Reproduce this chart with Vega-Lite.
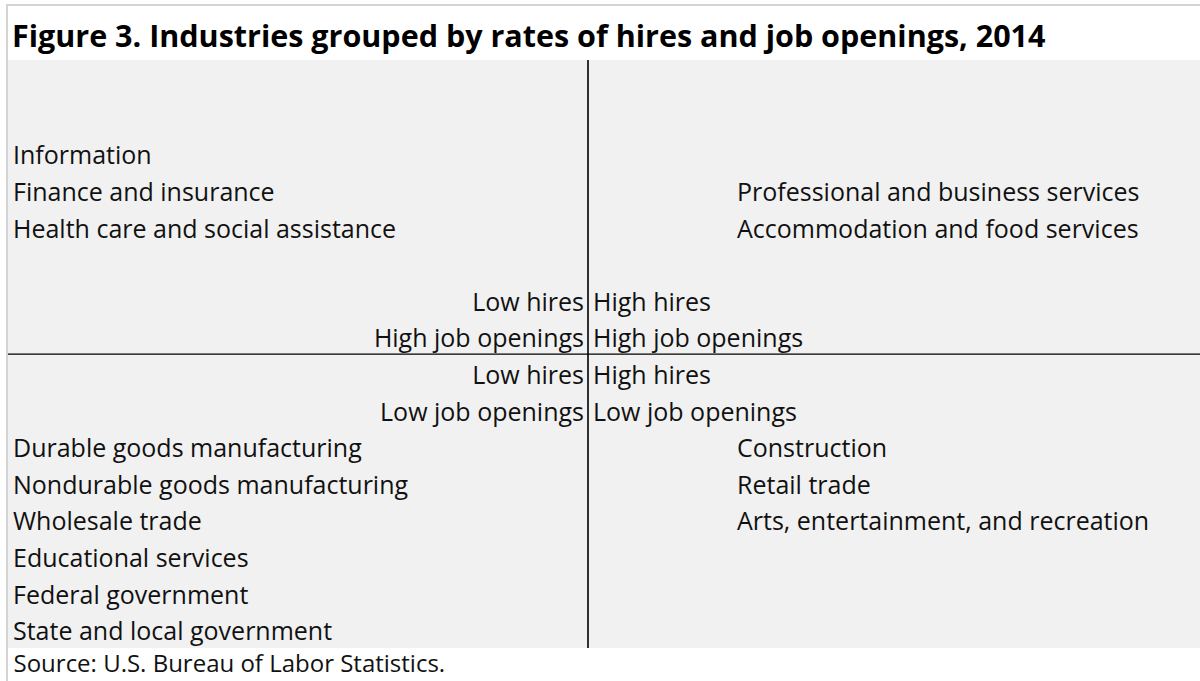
{
  "$schema": "https://vega.github.io/schema/vega-lite/v6.json",
  "autosize": {"type": "none"},
  "padding": {"left": 8, "top": 60, "right": 0, "bottom": 33},
  "width": 1192,
  "height": 588,
  "background": "white",
  "config": {
    "view": {"fill": "#f1f1f1", "stroke": null},
    "text": {"font": "Open Sans", "fontSize": 25, "color": "#111111", "baseline": "alphabetic"}
  },
  "title": {
    "text": "Figure 3. Industries grouped by rates of hires and job openings, 2014",
    "anchor": "start",
    "frame": "group",
    "font": "Open Sans",
    "fontSize": 30.5,
    "fontWeight": "bold",
    "color": "#000000",
    "baseline": "alphabetic",
    "offset": -73,
    "dx": 4
  },
  "datasets": {
    "industries": [
      {"label": "Information", "quadrant": "High job openings, low hires", "row": 0},
      {"label": "Finance and insurance", "quadrant": "High job openings, low hires", "row": 1},
      {"label": "Health care and social assistance", "quadrant": "High job openings, low hires", "row": 2},
      {"label": "Professional and business services", "quadrant": "High job openings, high hires", "row": 1},
      {"label": "Accommodation and food services", "quadrant": "High job openings, high hires", "row": 2},
      {"label": "Durable goods manufacturing", "quadrant": "Low job openings, low hires", "row": 8},
      {"label": "Nondurable goods manufacturing", "quadrant": "Low job openings, low hires", "row": 9},
      {"label": "Wholesale trade", "quadrant": "Low job openings, low hires", "row": 10},
      {"label": "Educational services", "quadrant": "Low job openings, low hires", "row": 11},
      {"label": "Federal government", "quadrant": "Low job openings, low hires", "row": 12},
      {"label": "State and local government", "quadrant": "Low job openings, low hires", "row": 13},
      {"label": "Construction", "quadrant": "Low job openings, high hires", "row": 8},
      {"label": "Retail trade", "quadrant": "Low job openings, high hires", "row": 9},
      {"label": "Arts, entertainment, and recreation", "quadrant": "Low job openings, high hires", "row": 10}
    ],
    "quadrantLabels": [
      {"label": "Low hires", "side": "left", "row": 4},
      {"label": "High job openings", "side": "left", "row": 5},
      {"label": "Low hires", "side": "left", "row": 6},
      {"label": "Low job openings", "side": "left", "row": 7},
      {"label": "High hires", "side": "right", "row": 4},
      {"label": "High job openings", "side": "right", "row": 5},
      {"label": "High hires", "side": "right", "row": 6},
      {"label": "Low job openings", "side": "right", "row": 7}
    ],
    "frame": [{"edge": "outer"}]
  },
  "layer": [
    {
      "data": {"name": "frame"},
      "mark": {"type": "rule", "color": "#d4d4d4", "strokeWidth": 2},
      "encoding": {
        "x": {"datum": -1, "type": "quantitative", "scale": {"domain": [0, 1192], "nice": false, "zero": false}, "axis": {"title": "Source: U.S. Bureau of Labor Statistics.", "domain": false, "ticks": false, "labels": false, "grid": false, "titleFont": "Open Sans", "titleFontSize": 24, "titleFontWeight": "normal", "titleColor": "#111111", "titleAnchor": null, "titleAlign": "left", "titleBaseline": "alphabetic", "titleX": 5, "titleY": 23}},
        "y": {"datum": -4.325, "type": "quantitative", "scale": {"domain": [-2.85, 13.215], "reverse": true, "nice": false, "zero": false}, "axis": null},
        "y2": {"datum": 14.2}
      }
    },
    {
      "data": {"name": "frame"},
      "mark": {"type": "rule", "color": "#d4d4d4", "strokeWidth": 2},
      "encoding": {
        "x": {"datum": -2, "type": "quantitative"},
        "x2": {"datum": 1200},
        "y": {"datum": -4.35, "type": "quantitative"}
      }
    },
    {
      "data": {"name": "frame"},
      "mark": {"type": "rule", "color": "#000000", "strokeWidth": 1.6},
      "encoding": {"x": {"datum": 580, "type": "quantitative"}}
    },
    {
      "data": {"name": "frame"},
      "mark": {"type": "rule", "color": "#000000", "strokeWidth": 1.2},
      "encoding": {"y": {"datum": 5.185, "type": "quantitative"}}
    },
    {
      "data": {"name": "industries"},
      "transform": [{"filter": "indexof(datum.quadrant, 'low hires') >= 0"}],
      "mark": {"type": "text", "align": "left"},
      "encoding": {
        "x": {"datum": 5, "type": "quantitative"},
        "y": {"field": "row", "type": "quantitative"},
        "text": {"field": "label"}
      }
    },
    {
      "data": {"name": "industries"},
      "transform": [{"filter": "indexof(datum.quadrant, 'high hires') >= 0"}],
      "mark": {"type": "text", "align": "left"},
      "encoding": {
        "x": {"datum": 729, "type": "quantitative"},
        "y": {"field": "row", "type": "quantitative"},
        "text": {"field": "label"}
      }
    },
    {
      "data": {"name": "quadrantLabels"},
      "transform": [{"filter": "datum.side === 'left'"}],
      "mark": {"type": "text", "align": "right"},
      "encoding": {
        "x": {"datum": 576, "type": "quantitative"},
        "y": {"field": "row", "type": "quantitative"},
        "text": {"field": "label"}
      }
    },
    {
      "data": {"name": "quadrantLabels"},
      "transform": [{"filter": "datum.side === 'right'"}],
      "mark": {"type": "text", "align": "left"},
      "encoding": {
        "x": {"datum": 585, "type": "quantitative"},
        "y": {"field": "row", "type": "quantitative"},
        "text": {"field": "label"}
      }
    }
  ]
}
